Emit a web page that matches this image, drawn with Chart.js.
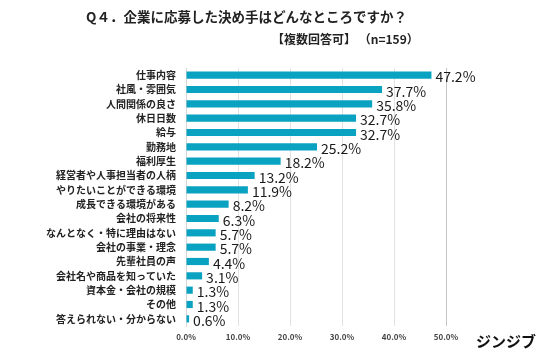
<!DOCTYPE html>
<html>
<head>
<meta charset="utf-8">
<script src="https://cdn.jsdelivr.net/npm/chart.js@4"></script>
<style>
    body { margin: 0; background: #fff; }
    #wrap { position: relative; width: 536px; height: 358px; font-family: "Noto Sans CJK JP", sans-serif; }
    .txt { position: absolute; white-space: nowrap; color: #222; font-weight: bold; line-height: 1; }
</style>
</head>
<body>
<div id="wrap">
    <canvas id="c" width="536" height="358"></canvas>
    <div class="txt" style="left:86px; top:10px; font-size:13.5px;">Q４．企業に応募した決め手はどんなところですか？</div>
    <div class="txt" style="left:272px; top:33px; font-size:12px;">【複数回答可】 （n=159）</div>
    <div class="txt" style="left:476px; top:333px; font-size:15px; color:#111;">ジンジブ</div>
</div>
<script>
// 回答項目
const categories = [
    '仕事内容', '社風・雰囲気', '人間関係の良さ', '休日日数', '給与', '勤務地', '福利厚生',
    '経営者や人事担当者の人柄', 'やりたいことができる環境', '成長できる環境がある', '会社の将来性',
    'なんとなく・特に理由はない', '会社の事業・理念', '先輩社員の声', '会社名や商品を知っていた',
    '資本金・会社の規模', 'その他', '答えられない・分からない'
];
// 割合 (%)
const values = [47.2, 37.7, 35.8, 32.7, 32.7, 25.2, 18.2, 13.2, 11.9, 8.2, 6.3, 5.7, 5.7, 4.4, 3.1, 1.3, 1.3, 0.6];
const xTicks = [0, 10, 20, 30, 40, 50];

// バーの右にラベルを描く
const valueLabels = {
    id: 'valueLabels',
    afterDatasetsDraw(chart) {
        const ctx = chart.ctx;
        const meta = chart.getDatasetMeta(0);
        ctx.save();
        ctx.font = '14px "Noto Sans CJK JP", sans-serif';
        ctx.fillStyle = '#1a1a1a';
        ctx.textBaseline = 'middle';
        ctx.textAlign = 'left';
        meta.data.forEach((bar, i) => {
            ctx.fillText(values[i].toFixed(1) + '%', bar.x + 4, bar.y + 2);
        });
        ctx.restore();
    }
};

new Chart(document.getElementById('c'), {
    type: 'bar',
    data: {
        labels: categories,
        datasets: [{
            data: values,
            backgroundColor: '#0aa2c1',
            categoryPercentage: 1,
            barPercentage: 0.5
        }]
    },
    options: {
        indexAxis: 'y',
        responsive: false,
        animation: false,
        layout: { padding: { top: 68, right: 90, left: 0, bottom: 0 } },
        plugins: {
            legend: { display: false },
            tooltip: { enabled: false }
        },
        scales: {
            x: {
                min: 0,
                max: 50,
                afterFit: (s) => { s.height = 32; },
                afterBuildTicks: (s) => { s.ticks = xTicks.map(v => ({ value: v })); },
                ticks: {
                    padding: 6,
                    color: '#444',
                    font: { size: 8, weight: 'bold', family: '"Noto Sans CJK JP", sans-serif' },
                    callback: (v) => v.toFixed(1) + '%'
                },
                grid: {
                    drawTicks: false,
                    color: (c) => c.tick && c.tick.value === 50 ? '#c4c4c4' : '#e2e2e2'
                },
                border: { display: false }
            },
            y: {
                afterFit: (s) => { s.width = 186; },
                ticks: {
                    autoSkip: false,
                    padding: 10,
                    color: '#222',
                    font: { size: 10, weight: 'bold', family: '"Noto Sans CJK JP", sans-serif' }
                },
                grid: { display: false, drawTicks: false },
                border: { color: '#d6d6d6' }
            }
        }
    },
    plugins: [valueLabels]
});
</script>
</body>
</html>
